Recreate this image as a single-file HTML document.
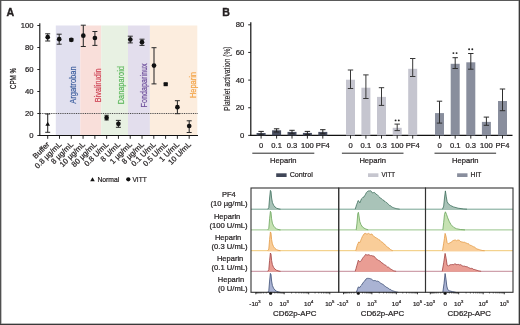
<!DOCTYPE html><html><head><meta charset="utf-8"><style>html,body{margin:0;padding:0;background:#fff;}svg{display:block;will-change:transform;}text{font-family:"Liberation Sans", sans-serif;}</style></head><body>
<svg width="520" height="325" viewBox="0 0 520 325">
<rect x="0" y="0" width="520" height="325" fill="#fff"/>
<text x="6.6" y="16.3" font-size="10.6" font-weight="bold" fill="#231f20" stroke="#231f20" stroke-width="0.35">A</text>
<rect x="55.8" y="25.499999999999986" width="24.50" height="110.00" fill="#e1e0ef"/>
<rect x="80.3" y="25.499999999999986" width="20.90" height="110.00" fill="#f9dfda"/>
<rect x="101.2" y="25.499999999999986" width="26.80" height="110.00" fill="#e8f1e3"/>
<rect x="128" y="25.499999999999986" width="21.90" height="110.00" fill="#e3deed"/>
<rect x="149.9" y="25.499999999999986" width="47.40" height="110.00" fill="#fcedde"/>
<text transform="translate(76.30,85.00) rotate(-90)" font-size="9.6" fill="#3d5f9f" stroke="#3d5f9f" stroke-width="0.2" text-anchor="middle" textLength="37.5" lengthAdjust="spacingAndGlyphs">Argatroban</text>
<text transform="translate(100.60,85.30) rotate(-90)" font-size="9.6" fill="#cf4455" stroke="#cf4455" stroke-width="0.2" text-anchor="middle" textLength="33.8" lengthAdjust="spacingAndGlyphs">Bivalirudin</text>
<text transform="translate(124.40,85.20) rotate(-90)" font-size="9.6" fill="#5cb85c" stroke="#5cb85c" stroke-width="0.2" text-anchor="middle" textLength="38.2" lengthAdjust="spacingAndGlyphs">Danaparoid</text>
<text transform="translate(147.40,85.40) rotate(-90)" font-size="9.6" fill="#6e4f9c" stroke="#6e4f9c" stroke-width="0.2" text-anchor="middle" textLength="44.2" lengthAdjust="spacingAndGlyphs">Fondaparinux</text>
<text transform="translate(195.60,85.00) rotate(-90)" font-size="9.6" fill="#f3a448" stroke="#f3a448" stroke-width="0.2" text-anchor="middle" textLength="26" lengthAdjust="spacingAndGlyphs">Heparin</text>
<line x1="40" y1="113.5" x2="198.2" y2="113.5" stroke="#4a4a4a" stroke-width="1" stroke-dasharray="1,0.8"/>
<line x1="39.8" y1="23.299999999999986" x2="39.8" y2="136.0" stroke="#111" stroke-width="1.1"/>
<line x1="39.3" y1="135.5" x2="198" y2="135.5" stroke="#111" stroke-width="1.1"/>
<line x1="37.3" y1="135.5" x2="39.8" y2="135.5" stroke="#111" stroke-width="0.9"/>
<text x="33.6" y="137.80" font-size="7.7" fill="#231f20" text-anchor="end" stroke="#231f20" stroke-width="0.22">0</text>
<line x1="37.3" y1="113.5" x2="39.8" y2="113.5" stroke="#111" stroke-width="0.9"/>
<text x="33.6" y="115.80" font-size="7.7" fill="#231f20" text-anchor="end" stroke="#231f20" stroke-width="0.22">20</text>
<line x1="37.3" y1="91.5" x2="39.8" y2="91.5" stroke="#111" stroke-width="0.9"/>
<text x="33.6" y="93.80" font-size="7.7" fill="#231f20" text-anchor="end" stroke="#231f20" stroke-width="0.22">40</text>
<line x1="37.3" y1="69.5" x2="39.8" y2="69.5" stroke="#111" stroke-width="0.9"/>
<text x="33.6" y="71.80" font-size="7.7" fill="#231f20" text-anchor="end" stroke="#231f20" stroke-width="0.22">60</text>
<line x1="37.3" y1="47.5" x2="39.8" y2="47.5" stroke="#111" stroke-width="0.9"/>
<text x="33.6" y="49.80" font-size="7.7" fill="#231f20" text-anchor="end" stroke="#231f20" stroke-width="0.22">80</text>
<line x1="37.3" y1="25.499999999999986" x2="39.8" y2="25.499999999999986" stroke="#111" stroke-width="0.9"/>
<text x="33.6" y="27.80" font-size="7.7" fill="#231f20" text-anchor="end" stroke="#231f20" stroke-width="0.22">100</text>
<line x1="47.70" y1="135.5" x2="47.70" y2="138.8" stroke="#111" stroke-width="0.9"/>
<line x1="59.49" y1="135.5" x2="59.49" y2="138.8" stroke="#111" stroke-width="0.9"/>
<line x1="71.28" y1="135.5" x2="71.28" y2="138.8" stroke="#111" stroke-width="0.9"/>
<line x1="83.07" y1="135.5" x2="83.07" y2="138.8" stroke="#111" stroke-width="0.9"/>
<line x1="94.86" y1="135.5" x2="94.86" y2="138.8" stroke="#111" stroke-width="0.9"/>
<line x1="106.65" y1="135.5" x2="106.65" y2="138.8" stroke="#111" stroke-width="0.9"/>
<line x1="118.44" y1="135.5" x2="118.44" y2="138.8" stroke="#111" stroke-width="0.9"/>
<line x1="130.23" y1="135.5" x2="130.23" y2="138.8" stroke="#111" stroke-width="0.9"/>
<line x1="142.02" y1="135.5" x2="142.02" y2="138.8" stroke="#111" stroke-width="0.9"/>
<line x1="153.81" y1="135.5" x2="153.81" y2="138.8" stroke="#111" stroke-width="0.9"/>
<line x1="165.60" y1="135.5" x2="165.60" y2="138.8" stroke="#111" stroke-width="0.9"/>
<line x1="177.39" y1="135.5" x2="177.39" y2="138.8" stroke="#111" stroke-width="0.9"/>
<line x1="189.18" y1="135.5" x2="189.18" y2="138.8" stroke="#111" stroke-width="0.9"/>
<text transform="translate(15.6,78.5) rotate(-90)" font-size="9.6" fill="#231f20" stroke="#231f20" stroke-width="0.25" text-anchor="middle" textLength="21" lengthAdjust="spacingAndGlyphs">CPM %</text>
<text transform="translate(50.10,144.90) rotate(-45)" font-size="7.65" fill="#231f20" text-anchor="end" stroke="#231f20" stroke-width="0.22">Buffer</text>
<text transform="translate(61.89,144.90) rotate(-45)" font-size="7.65" fill="#231f20" text-anchor="end" stroke="#231f20" stroke-width="0.22">0.8 µg/mL</text>
<text transform="translate(73.68,144.90) rotate(-45)" font-size="7.65" fill="#231f20" text-anchor="end" stroke="#231f20" stroke-width="0.22">8 µg/mL</text>
<text transform="translate(85.47,144.90) rotate(-45)" font-size="7.65" fill="#231f20" text-anchor="end" stroke="#231f20" stroke-width="0.22">10 µg/mL</text>
<text transform="translate(97.26,144.90) rotate(-45)" font-size="7.65" fill="#231f20" text-anchor="end" stroke="#231f20" stroke-width="0.22">80 µg/mL</text>
<text transform="translate(109.05,144.90) rotate(-45)" font-size="7.65" fill="#231f20" text-anchor="end" stroke="#231f20" stroke-width="0.22">0.8 U/mL</text>
<text transform="translate(120.84,144.90) rotate(-45)" font-size="7.65" fill="#231f20" text-anchor="end" stroke="#231f20" stroke-width="0.22">8 U/mL</text>
<text transform="translate(132.63,144.90) rotate(-45)" font-size="7.65" fill="#231f20" text-anchor="end" stroke="#231f20" stroke-width="0.22">1 µg/mL</text>
<text transform="translate(144.42,144.90) rotate(-45)" font-size="7.65" fill="#231f20" text-anchor="end" stroke="#231f20" stroke-width="0.22">8 µg/mL</text>
<text transform="translate(156.21,144.90) rotate(-45)" font-size="7.65" fill="#231f20" text-anchor="end" stroke="#231f20" stroke-width="0.22">0.1 U/mL</text>
<text transform="translate(168.00,144.90) rotate(-45)" font-size="7.65" fill="#231f20" text-anchor="end" stroke="#231f20" stroke-width="0.22">0.5 U/mL</text>
<text transform="translate(179.79,144.90) rotate(-45)" font-size="7.65" fill="#231f20" text-anchor="end" stroke="#231f20" stroke-width="0.22">1 U/mL</text>
<text transform="translate(191.58,144.90) rotate(-45)" font-size="7.65" fill="#231f20" text-anchor="end" stroke="#231f20" stroke-width="0.22">10 U/mL</text>
<line x1="47.7" y1="33.8" x2="47.7" y2="41.0" stroke="#2a2a2a" stroke-width="1.05"/>
<line x1="45.20" y1="33.8" x2="50.20" y2="33.8" stroke="#2a2a2a" stroke-width="1"/>
<line x1="45.20" y1="41.0" x2="50.20" y2="41.0" stroke="#2a2a2a" stroke-width="1"/>
<circle cx="47.7" cy="37.2" r="2.35" fill="#111"/>
<line x1="47.7" y1="114.0" x2="47.7" y2="132.3" stroke="#2a2a2a" stroke-width="1.05"/>
<line x1="45.20" y1="114.0" x2="50.20" y2="114.0" stroke="#2a2a2a" stroke-width="1"/>
<line x1="45.20" y1="132.3" x2="50.20" y2="132.3" stroke="#2a2a2a" stroke-width="1"/>
<path d="M47.7 121.8 L50.0 125.8 L45.400000000000006 125.8Z" fill="#111"/>
<line x1="59.2" y1="34.2" x2="59.2" y2="44.2" stroke="#2a2a2a" stroke-width="1.05"/>
<line x1="56.70" y1="34.2" x2="61.70" y2="34.2" stroke="#2a2a2a" stroke-width="1"/>
<line x1="56.70" y1="44.2" x2="61.70" y2="44.2" stroke="#2a2a2a" stroke-width="1"/>
<circle cx="59.2" cy="39.2" r="2.35" fill="#111"/>
<line x1="71.3" y1="38.6" x2="71.3" y2="41.0" stroke="#2a2a2a" stroke-width="1.05"/>
<line x1="69.20" y1="38.6" x2="73.40" y2="38.6" stroke="#2a2a2a" stroke-width="1"/>
<line x1="69.20" y1="41.0" x2="73.40" y2="41.0" stroke="#2a2a2a" stroke-width="1"/>
<circle cx="71.3" cy="39.8" r="2.35" fill="#111"/>
<line x1="83.3" y1="25.2" x2="83.3" y2="46.5" stroke="#2a2a2a" stroke-width="1.05"/>
<line x1="80.80" y1="25.2" x2="85.80" y2="25.2" stroke="#2a2a2a" stroke-width="1"/>
<line x1="80.80" y1="46.5" x2="85.80" y2="46.5" stroke="#2a2a2a" stroke-width="1"/>
<circle cx="83.3" cy="35.7" r="2.35" fill="#111"/>
<line x1="94.9" y1="31.5" x2="94.9" y2="45.4" stroke="#2a2a2a" stroke-width="1.05"/>
<line x1="92.40" y1="31.5" x2="97.40" y2="31.5" stroke="#2a2a2a" stroke-width="1"/>
<line x1="92.40" y1="45.4" x2="97.40" y2="45.4" stroke="#2a2a2a" stroke-width="1"/>
<circle cx="94.9" cy="38.0" r="2.35" fill="#111"/>
<line x1="106.6" y1="115.3" x2="106.6" y2="120.0" stroke="#2a2a2a" stroke-width="1.05"/>
<line x1="104.50" y1="115.3" x2="108.70" y2="115.3" stroke="#2a2a2a" stroke-width="1"/>
<line x1="104.50" y1="120.0" x2="108.70" y2="120.0" stroke="#2a2a2a" stroke-width="1"/>
<circle cx="106.6" cy="117.8" r="2.35" fill="#111"/>
<line x1="118.4" y1="120.4" x2="118.4" y2="127.3" stroke="#2a2a2a" stroke-width="1.05"/>
<line x1="115.90" y1="120.4" x2="120.90" y2="120.4" stroke="#2a2a2a" stroke-width="1"/>
<line x1="115.90" y1="127.3" x2="120.90" y2="127.3" stroke="#2a2a2a" stroke-width="1"/>
<circle cx="118.4" cy="123.8" r="2.35" fill="#111"/>
<line x1="130.3" y1="36.2" x2="130.3" y2="42.9" stroke="#2a2a2a" stroke-width="1.05"/>
<line x1="127.80" y1="36.2" x2="132.80" y2="36.2" stroke="#2a2a2a" stroke-width="1"/>
<line x1="127.80" y1="42.9" x2="132.80" y2="42.9" stroke="#2a2a2a" stroke-width="1"/>
<circle cx="130.3" cy="39.5" r="2.35" fill="#111"/>
<line x1="142.0" y1="39.2" x2="142.0" y2="45.4" stroke="#2a2a2a" stroke-width="1.05"/>
<line x1="139.50" y1="39.2" x2="144.50" y2="39.2" stroke="#2a2a2a" stroke-width="1"/>
<line x1="139.50" y1="45.4" x2="144.50" y2="45.4" stroke="#2a2a2a" stroke-width="1"/>
<circle cx="142.0" cy="42.2" r="2.35" fill="#111"/>
<line x1="154.0" y1="47.7" x2="154.0" y2="83.9" stroke="#2a2a2a" stroke-width="1.05"/>
<line x1="151.50" y1="47.7" x2="156.50" y2="47.7" stroke="#2a2a2a" stroke-width="1"/>
<line x1="151.50" y1="83.9" x2="156.50" y2="83.9" stroke="#2a2a2a" stroke-width="1"/>
<circle cx="154.0" cy="65.6" r="2.35" fill="#111"/>
<line x1="165.7" y1="83.4" x2="165.7" y2="85.0" stroke="#2a2a2a" stroke-width="1.05"/>
<line x1="163.60" y1="83.4" x2="167.80" y2="83.4" stroke="#2a2a2a" stroke-width="1"/>
<line x1="163.60" y1="85.0" x2="167.80" y2="85.0" stroke="#2a2a2a" stroke-width="1"/>
<rect x="163.7" y="82.2" width="4" height="4" fill="#111"/>
<line x1="177.4" y1="100.7" x2="177.4" y2="113.7" stroke="#2a2a2a" stroke-width="1.05"/>
<line x1="174.90" y1="100.7" x2="179.90" y2="100.7" stroke="#2a2a2a" stroke-width="1"/>
<line x1="174.90" y1="113.7" x2="179.90" y2="113.7" stroke="#2a2a2a" stroke-width="1"/>
<circle cx="177.4" cy="107.2" r="2.35" fill="#111"/>
<line x1="189.2" y1="120.8" x2="189.2" y2="132.5" stroke="#2a2a2a" stroke-width="1.05"/>
<line x1="186.70" y1="120.8" x2="191.70" y2="120.8" stroke="#2a2a2a" stroke-width="1"/>
<line x1="186.70" y1="132.5" x2="191.70" y2="132.5" stroke="#2a2a2a" stroke-width="1"/>
<circle cx="189.2" cy="126.0" r="2.35" fill="#111"/>
<path d="M92.5 177.2 L94.8 181.2 L90.2 181.2Z" fill="#111"/>
<text x="97.4" y="181.6" font-size="7.4" fill="#231f20" textLength="21.9" lengthAdjust="spacingAndGlyphs" stroke="#231f20" stroke-width="0.22">Normal</text>
<circle cx="128.3" cy="179.3" r="2.1" fill="#111"/>
<text x="132.4" y="181.6" font-size="7.4" fill="#231f20" textLength="14.3" lengthAdjust="spacingAndGlyphs" stroke="#231f20" stroke-width="0.22">VITT</text>
<text x="222.2" y="16.3" font-size="10.6" font-weight="bold" fill="#231f20" stroke="#231f20" stroke-width="0.35">B</text>
<line x1="250.8" y1="22.199999999999996" x2="250.8" y2="135.9" stroke="#111" stroke-width="1.2"/>
<line x1="250.2" y1="135.4" x2="512.5" y2="135.4" stroke="#111" stroke-width="1.1"/>
<line x1="248.2" y1="135.4" x2="250.8" y2="135.4" stroke="#111" stroke-width="0.9"/>
<text x="244.3" y="137.90" font-size="7.7" fill="#231f20" text-anchor="end" stroke="#231f20" stroke-width="0.22">0</text>
<line x1="248.2" y1="107.75" x2="250.8" y2="107.75" stroke="#111" stroke-width="0.9"/>
<text x="244.3" y="110.25" font-size="7.7" fill="#231f20" text-anchor="end" stroke="#231f20" stroke-width="0.22">20</text>
<line x1="248.2" y1="80.1" x2="250.8" y2="80.1" stroke="#111" stroke-width="0.9"/>
<text x="244.3" y="82.60" font-size="7.7" fill="#231f20" text-anchor="end" stroke="#231f20" stroke-width="0.22">40</text>
<line x1="248.2" y1="52.45" x2="250.8" y2="52.45" stroke="#111" stroke-width="0.9"/>
<text x="244.3" y="54.95" font-size="7.7" fill="#231f20" text-anchor="end" stroke="#231f20" stroke-width="0.22">60</text>
<line x1="248.2" y1="24.799999999999997" x2="250.8" y2="24.799999999999997" stroke="#111" stroke-width="0.9"/>
<text x="244.3" y="27.30" font-size="7.7" fill="#231f20" text-anchor="end" stroke="#231f20" stroke-width="0.22">80</text>
<text transform="translate(229.9,78.7) rotate(-90)" font-size="8.3" fill="#231f20" stroke="#231f20" stroke-width="0.15" text-anchor="middle" textLength="64.6" lengthAdjust="spacingAndGlyphs">Platelet activation (%)</text>
<rect x="256.60" y="133.0" width="9" height="2.40" fill="#484e60"/>
<line x1="261.1" y1="131.4" x2="261.1" y2="134.8" stroke="#222" stroke-width="1"/>
<line x1="258.40" y1="131.4" x2="263.80" y2="131.4" stroke="#222" stroke-width="1"/>
<line x1="258.40" y1="134.8" x2="263.80" y2="134.8" stroke="#222" stroke-width="1"/>
<line x1="261.1" y1="135.4" x2="261.1" y2="138.6" stroke="#111" stroke-width="0.9"/>
<rect x="272.10" y="130.3" width="9" height="5.10" fill="#484e60"/>
<line x1="276.6" y1="128.8" x2="276.6" y2="132.0" stroke="#222" stroke-width="1"/>
<line x1="273.90" y1="128.8" x2="279.30" y2="128.8" stroke="#222" stroke-width="1"/>
<line x1="273.90" y1="132.0" x2="279.30" y2="132.0" stroke="#222" stroke-width="1"/>
<line x1="276.6" y1="135.4" x2="276.6" y2="138.6" stroke="#111" stroke-width="0.9"/>
<rect x="287.50" y="131.9" width="9" height="3.50" fill="#484e60"/>
<line x1="292.0" y1="130.3" x2="292.0" y2="133.8" stroke="#222" stroke-width="1"/>
<line x1="289.30" y1="130.3" x2="294.70" y2="130.3" stroke="#222" stroke-width="1"/>
<line x1="289.30" y1="133.8" x2="294.70" y2="133.8" stroke="#222" stroke-width="1"/>
<line x1="292.0" y1="135.4" x2="292.0" y2="138.6" stroke="#111" stroke-width="0.9"/>
<rect x="302.90" y="132.9" width="9" height="2.50" fill="#484e60"/>
<line x1="307.4" y1="131.4" x2="307.4" y2="134.6" stroke="#222" stroke-width="1"/>
<line x1="304.70" y1="131.4" x2="310.10" y2="131.4" stroke="#222" stroke-width="1"/>
<line x1="304.70" y1="134.6" x2="310.10" y2="134.6" stroke="#222" stroke-width="1"/>
<line x1="307.4" y1="135.4" x2="307.4" y2="138.6" stroke="#111" stroke-width="0.9"/>
<rect x="318.30" y="131.9" width="9" height="3.50" fill="#484e60"/>
<line x1="322.8" y1="129.7" x2="322.8" y2="133.8" stroke="#222" stroke-width="1"/>
<line x1="320.10" y1="129.7" x2="325.50" y2="129.7" stroke="#222" stroke-width="1"/>
<line x1="320.10" y1="133.8" x2="325.50" y2="133.8" stroke="#222" stroke-width="1"/>
<line x1="322.8" y1="135.4" x2="322.8" y2="138.6" stroke="#111" stroke-width="0.9"/>
<text x="261.1" y="148.4" font-size="7.6" fill="#231f20" text-anchor="middle" stroke="#231f20" stroke-width="0.22">0</text>
<text x="276.6" y="148.4" font-size="7.6" fill="#231f20" text-anchor="middle" stroke="#231f20" stroke-width="0.22">0.1</text>
<text x="292.0" y="148.4" font-size="7.6" fill="#231f20" text-anchor="middle" stroke="#231f20" stroke-width="0.22">0.3</text>
<text x="307.4" y="148.4" font-size="7.6" fill="#231f20" text-anchor="middle" stroke="#231f20" stroke-width="0.22">100</text>
<text x="322.8" y="148.4" font-size="7.6" fill="#231f20" text-anchor="middle" stroke="#231f20" stroke-width="0.22">PF4</text>
<line x1="252.3" y1="153.2" x2="314.3" y2="153.2" stroke="#111" stroke-width="0.9"/>
<text x="283.30" y="163.3" font-size="7.6" fill="#231f20" text-anchor="middle" stroke="#231f20" stroke-width="0.22">Heparin</text>
<rect x="346.00" y="79.7" width="9" height="55.70" fill="#c5c5cf"/>
<line x1="350.5" y1="70.0" x2="350.5" y2="88.5" stroke="#383838" stroke-width="1"/>
<line x1="347.80" y1="70.0" x2="353.20" y2="70.0" stroke="#383838" stroke-width="1"/>
<line x1="347.80" y1="88.5" x2="353.20" y2="88.5" stroke="#383838" stroke-width="1"/>
<line x1="350.5" y1="135.4" x2="350.5" y2="138.6" stroke="#111" stroke-width="0.9"/>
<rect x="361.40" y="87.7" width="9" height="47.70" fill="#c5c5cf"/>
<line x1="365.9" y1="74.9" x2="365.9" y2="98.5" stroke="#383838" stroke-width="1"/>
<line x1="363.20" y1="74.9" x2="368.60" y2="74.9" stroke="#383838" stroke-width="1"/>
<line x1="363.20" y1="98.5" x2="368.60" y2="98.5" stroke="#383838" stroke-width="1"/>
<line x1="365.9" y1="135.4" x2="365.9" y2="138.6" stroke="#111" stroke-width="0.9"/>
<rect x="377.00" y="96.9" width="9" height="38.50" fill="#c5c5cf"/>
<line x1="381.5" y1="87.7" x2="381.5" y2="105.4" stroke="#383838" stroke-width="1"/>
<line x1="378.80" y1="87.7" x2="384.20" y2="87.7" stroke="#383838" stroke-width="1"/>
<line x1="378.80" y1="105.4" x2="384.20" y2="105.4" stroke="#383838" stroke-width="1"/>
<line x1="381.5" y1="135.4" x2="381.5" y2="138.6" stroke="#111" stroke-width="0.9"/>
<rect x="392.70" y="127.8" width="9" height="7.60" fill="#c5c5cf"/>
<line x1="397.2" y1="124.1" x2="397.2" y2="130.6" stroke="#383838" stroke-width="1"/>
<line x1="394.50" y1="124.1" x2="399.90" y2="124.1" stroke="#383838" stroke-width="1"/>
<line x1="394.50" y1="130.6" x2="399.90" y2="130.6" stroke="#383838" stroke-width="1"/>
<line x1="397.2" y1="135.4" x2="397.2" y2="138.6" stroke="#111" stroke-width="0.9"/>
<rect x="408.20" y="68.8" width="9" height="66.60" fill="#c5c5cf"/>
<line x1="412.7" y1="58.5" x2="412.7" y2="76.5" stroke="#383838" stroke-width="1"/>
<line x1="410.00" y1="58.5" x2="415.40" y2="58.5" stroke="#383838" stroke-width="1"/>
<line x1="410.00" y1="76.5" x2="415.40" y2="76.5" stroke="#383838" stroke-width="1"/>
<line x1="412.7" y1="135.4" x2="412.7" y2="138.6" stroke="#111" stroke-width="0.9"/>
<circle cx="395.60" cy="120.4" r="0.95" fill="#222"/><circle cx="398.80" cy="120.4" r="0.95" fill="#222"/>
<text x="350.5" y="148.4" font-size="7.6" fill="#231f20" text-anchor="middle" stroke="#231f20" stroke-width="0.22">0</text>
<text x="365.9" y="148.4" font-size="7.6" fill="#231f20" text-anchor="middle" stroke="#231f20" stroke-width="0.22">0.1</text>
<text x="381.5" y="148.4" font-size="7.6" fill="#231f20" text-anchor="middle" stroke="#231f20" stroke-width="0.22">0.3</text>
<text x="397.2" y="148.4" font-size="7.6" fill="#231f20" text-anchor="middle" stroke="#231f20" stroke-width="0.22">100</text>
<text x="412.7" y="148.4" font-size="7.6" fill="#231f20" text-anchor="middle" stroke="#231f20" stroke-width="0.22">PF4</text>
<line x1="341.9" y1="153.2" x2="403.5" y2="153.2" stroke="#111" stroke-width="0.9"/>
<text x="372.70" y="163.3" font-size="7.6" fill="#231f20" text-anchor="middle" stroke="#231f20" stroke-width="0.22">Heparin</text>
<rect x="435.00" y="113.1" width="9" height="22.30" fill="#898e9d"/>
<line x1="439.5" y1="101.2" x2="439.5" y2="123.1" stroke="#2e2e2e" stroke-width="1"/>
<line x1="436.80" y1="101.2" x2="442.20" y2="101.2" stroke="#2e2e2e" stroke-width="1"/>
<line x1="436.80" y1="123.1" x2="442.20" y2="123.1" stroke="#2e2e2e" stroke-width="1"/>
<line x1="439.5" y1="135.4" x2="439.5" y2="138.6" stroke="#111" stroke-width="0.9"/>
<rect x="450.70" y="63.8" width="9" height="71.60" fill="#898e9d"/>
<line x1="455.2" y1="57.7" x2="455.2" y2="68.5" stroke="#2e2e2e" stroke-width="1"/>
<line x1="452.50" y1="57.7" x2="457.90" y2="57.7" stroke="#2e2e2e" stroke-width="1"/>
<line x1="452.50" y1="68.5" x2="457.90" y2="68.5" stroke="#2e2e2e" stroke-width="1"/>
<line x1="455.2" y1="135.4" x2="455.2" y2="138.6" stroke="#111" stroke-width="0.9"/>
<rect x="466.30" y="62.3" width="9" height="73.10" fill="#898e9d"/>
<line x1="470.8" y1="53.5" x2="470.8" y2="69.2" stroke="#2e2e2e" stroke-width="1"/>
<line x1="468.10" y1="53.5" x2="473.50" y2="53.5" stroke="#2e2e2e" stroke-width="1"/>
<line x1="468.10" y1="69.2" x2="473.50" y2="69.2" stroke="#2e2e2e" stroke-width="1"/>
<line x1="470.8" y1="135.4" x2="470.8" y2="138.6" stroke="#111" stroke-width="0.9"/>
<rect x="481.90" y="121.9" width="9" height="13.50" fill="#898e9d"/>
<line x1="486.4" y1="117.1" x2="486.4" y2="125.3" stroke="#2e2e2e" stroke-width="1"/>
<line x1="483.70" y1="117.1" x2="489.10" y2="117.1" stroke="#2e2e2e" stroke-width="1"/>
<line x1="483.70" y1="125.3" x2="489.10" y2="125.3" stroke="#2e2e2e" stroke-width="1"/>
<line x1="486.4" y1="135.4" x2="486.4" y2="138.6" stroke="#111" stroke-width="0.9"/>
<rect x="498.00" y="101.0" width="9" height="34.40" fill="#898e9d"/>
<line x1="502.5" y1="89.0" x2="502.5" y2="110.7" stroke="#2e2e2e" stroke-width="1"/>
<line x1="499.80" y1="89.0" x2="505.20" y2="89.0" stroke="#2e2e2e" stroke-width="1"/>
<line x1="499.80" y1="110.7" x2="505.20" y2="110.7" stroke="#2e2e2e" stroke-width="1"/>
<line x1="502.5" y1="135.4" x2="502.5" y2="138.6" stroke="#111" stroke-width="0.9"/>
<circle cx="453.40" cy="53.1" r="0.95" fill="#222"/><circle cx="456.60" cy="53.1" r="0.95" fill="#222"/>
<circle cx="469.10" cy="49.2" r="0.95" fill="#222"/><circle cx="472.30" cy="49.2" r="0.95" fill="#222"/>
<text x="439.5" y="148.4" font-size="7.6" fill="#231f20" text-anchor="middle" stroke="#231f20" stroke-width="0.22">0</text>
<text x="455.2" y="148.4" font-size="7.6" fill="#231f20" text-anchor="middle" stroke="#231f20" stroke-width="0.22">0.1</text>
<text x="470.8" y="148.4" font-size="7.6" fill="#231f20" text-anchor="middle" stroke="#231f20" stroke-width="0.22">0.3</text>
<text x="486.4" y="148.4" font-size="7.6" fill="#231f20" text-anchor="middle" stroke="#231f20" stroke-width="0.22">100</text>
<text x="502.5" y="148.4" font-size="7.6" fill="#231f20" text-anchor="middle" stroke="#231f20" stroke-width="0.22">PF4</text>
<line x1="434.5" y1="153.2" x2="496.1" y2="153.2" stroke="#111" stroke-width="0.9"/>
<text x="465.30" y="163.3" font-size="7.6" fill="#231f20" text-anchor="middle" stroke="#231f20" stroke-width="0.22">Heparin</text>
<rect x="276.2" y="173.3" width="10.4" height="3.7" fill="#404658"/>
<text x="289.70" y="176.8" font-size="7.5" fill="#231f20" textLength="23.1" lengthAdjust="spacingAndGlyphs" stroke="#231f20" stroke-width="0.22">Control</text>
<rect x="368" y="173.3" width="10.4" height="3.7" fill="#c6c6cf"/>
<text x="381.50" y="176.8" font-size="7.5" fill="#231f20" textLength="13.6" lengthAdjust="spacingAndGlyphs" stroke="#231f20" stroke-width="0.22">VITT</text>
<rect x="457.1" y="173.3" width="10.4" height="3.7" fill="#898e9d"/>
<text x="470.60" y="176.8" font-size="7.5" fill="#231f20" textLength="10.9" lengthAdjust="spacingAndGlyphs" stroke="#231f20" stroke-width="0.22">HIT</text>
<text x="228.8" y="196.8" font-size="7.5" fill="#231f20" text-anchor="middle" stroke="#231f20" stroke-width="0.22">PF4</text>
<text x="247.6" y="205.70" font-size="7.65" fill="#231f20" text-anchor="end" stroke="#231f20" stroke-width="0.22">(10 µg/mL)</text>
<text x="227.1" y="218.9" font-size="7.5" fill="#231f20" text-anchor="middle" stroke="#231f20" stroke-width="0.22">Heparin</text>
<text x="247.6" y="227.80" font-size="7.65" fill="#231f20" text-anchor="end" stroke="#231f20" stroke-width="0.22">(100 U/mL)</text>
<text x="228.1" y="240.1" font-size="7.5" fill="#231f20" text-anchor="middle" stroke="#231f20" stroke-width="0.22">Heparin</text>
<text x="247.6" y="249.00" font-size="7.65" fill="#231f20" text-anchor="end" stroke="#231f20" stroke-width="0.22">(0.3 U/mL)</text>
<text x="230.1" y="261.1" font-size="7.5" fill="#231f20" text-anchor="middle" stroke="#231f20" stroke-width="0.22">Heparin</text>
<text x="247.6" y="270.00" font-size="7.65" fill="#231f20" text-anchor="end" stroke="#231f20" stroke-width="0.22">(0.1 U/mL)</text>
<text x="231.0" y="282.1" font-size="7.5" fill="#231f20" text-anchor="middle" stroke="#231f20" stroke-width="0.22">Heparin</text>
<text x="247.6" y="291.00" font-size="7.65" fill="#231f20" text-anchor="end" stroke="#231f20" stroke-width="0.22">(0 U/mL)</text>
<line x1="251.0" y1="209.2" x2="338.7" y2="209.2" stroke="#74a291" stroke-width="1"/>
<line x1="251.0" y1="229.9" x2="338.7" y2="229.9" stroke="#98c48a" stroke-width="1"/>
<line x1="251.0" y1="250.7" x2="338.7" y2="250.7" stroke="#f1c874" stroke-width="1"/>
<line x1="251.0" y1="271.3" x2="338.7" y2="271.3" stroke="#c48a98" stroke-width="1"/>
<line x1="338.7" y1="209.2" x2="425.5" y2="209.2" stroke="#74a291" stroke-width="1"/>
<line x1="338.7" y1="229.9" x2="425.5" y2="229.9" stroke="#98c48a" stroke-width="1"/>
<line x1="338.7" y1="250.7" x2="425.5" y2="250.7" stroke="#f1c874" stroke-width="1"/>
<line x1="338.7" y1="271.3" x2="425.5" y2="271.3" stroke="#c48a98" stroke-width="1"/>
<line x1="425.5" y1="209.2" x2="513.0" y2="209.2" stroke="#74a291" stroke-width="1"/>
<line x1="425.5" y1="229.9" x2="513.0" y2="229.9" stroke="#98c48a" stroke-width="1"/>
<line x1="425.5" y1="250.7" x2="513.0" y2="250.7" stroke="#f1c874" stroke-width="1"/>
<line x1="425.5" y1="271.3" x2="513.0" y2="271.3" stroke="#c48a98" stroke-width="1"/>
<path d="M267.80 209.70 L267.80 209.20 L268.80 207.60 L269.60 198.00 L270.40 190.40 L271.00 191.60 L271.60 198.00 L272.40 202.40 L273.60 205.20 L275.00 207.00 L276.60 208.20 L279.00 209.00 L280.50 209.20 L280.50 209.70Z" fill="#a9c3b8"/>
<path d="M267.80 209.20 L268.80 207.60 L269.60 198.00 L270.40 190.40 L271.00 191.60 L271.60 198.00 L272.40 202.40 L273.60 205.20 L275.00 207.00 L276.60 208.20 L279.00 209.00 L280.50 209.20" fill="none" stroke="#3e6e5c" stroke-width="0.8" stroke-linejoin="round"/>
<path d="M267.80 230.40 L267.80 229.90 L268.80 228.32 L269.60 218.82 L270.40 211.30 L271.00 212.49 L271.60 218.82 L272.40 223.17 L273.60 225.94 L275.00 227.72 L276.60 228.91 L279.00 229.70 L280.50 229.90 L280.50 230.40Z" fill="#c6e2b2"/>
<path d="M267.80 229.90 L268.80 228.32 L269.60 218.82 L270.40 211.30 L271.00 212.49 L271.60 218.82 L272.40 223.17 L273.60 225.94 L275.00 227.72 L276.60 228.91 L279.00 229.70 L280.50 229.90" fill="none" stroke="#6aa55c" stroke-width="0.8" stroke-linejoin="round"/>
<path d="M267.80 251.20 L267.80 250.70 L268.80 249.10 L269.60 239.50 L270.40 231.90 L271.00 233.10 L271.60 239.50 L272.40 243.90 L273.60 246.70 L275.00 248.50 L276.60 249.70 L279.00 250.50 L280.50 250.70 L280.50 251.20Z" fill="#f9cd99"/>
<path d="M267.80 250.70 L268.80 249.10 L269.60 239.50 L270.40 231.90 L271.00 233.10 L271.60 239.50 L272.40 243.90 L273.60 246.70 L275.00 248.50 L276.60 249.70 L279.00 250.50 L280.50 250.70" fill="none" stroke="#e39a45" stroke-width="0.8" stroke-linejoin="round"/>
<path d="M267.80 271.80 L267.80 271.30 L268.80 269.74 L269.60 260.40 L270.40 253.00 L271.00 254.17 L271.60 260.40 L272.40 264.68 L273.60 267.41 L275.00 269.16 L276.60 270.33 L279.00 271.11 L280.50 271.30 L280.50 271.80Z" fill="#e99d94"/>
<path d="M267.80 271.30 L268.80 269.74 L269.60 260.40 L270.40 253.00 L271.00 254.17 L271.60 260.40 L272.40 264.68 L273.60 267.41 L275.00 269.16 L276.60 270.33 L279.00 271.11 L280.50 271.30" fill="none" stroke="#a04040" stroke-width="0.8" stroke-linejoin="round"/>
<path d="M267.80 292.80 L267.80 292.30 L268.80 290.69 L269.60 281.04 L270.40 273.40 L271.00 274.61 L271.60 281.04 L272.40 285.46 L273.60 288.28 L275.00 290.09 L276.60 291.29 L279.00 292.10 L280.50 292.30 L280.50 292.80Z" fill="#aab3d3"/>
<path d="M267.80 292.30 L268.80 290.69 L269.60 281.04 L270.40 273.40 L271.00 274.61 L271.60 281.04 L272.40 285.46 L273.60 288.28 L275.00 290.09 L276.60 291.29 L279.00 292.10 L280.50 292.30" fill="none" stroke="#3b4c74" stroke-width="0.8" stroke-linejoin="round"/>
<path d="M355.20 209.70 L355.20 209.20 L355.93 206.87 L356.65 204.54 L357.38 202.81 L358.10 200.50 L358.95 201.27 L359.80 202.80 L360.65 200.83 L361.50 198.80 L362.27 198.11 L363.03 197.27 L363.80 197.10 L364.70 195.66 L365.60 194.20 L366.45 192.48 L367.30 191.60 L368.07 191.31 L368.83 190.75 L369.60 190.90 L370.45 190.73 L371.30 191.30 L372.50 193.00 L373.35 192.63 L374.20 192.40 L375.40 193.30 L376.25 194.39 L377.10 194.56 L377.95 195.45 L378.80 196.50 L379.50 197.19 L380.20 198.06 L380.90 198.31 L381.60 198.73 L382.30 199.40 L383.00 200.39 L383.70 200.11 L384.40 201.40 L385.10 201.45 L385.80 202.20 L386.65 202.60 L387.50 203.31 L388.35 204.20 L389.20 205.10 L389.90 205.84 L390.60 205.73 L391.30 206.55 L392.00 207.07 L392.70 207.40 L393.55 207.70 L394.40 208.00 L395.25 208.30 L396.10 208.60 L396.80 208.72 L397.50 208.84 L398.20 208.96 L398.90 209.08 L399.60 209.20 L399.60 209.70Z" fill="#a9c3b8"/>
<path d="M355.20 209.20 L355.93 206.87 L356.65 204.54 L357.38 202.81 L358.10 200.50 L358.95 201.27 L359.80 202.80 L360.65 200.83 L361.50 198.80 L362.27 198.11 L363.03 197.27 L363.80 197.10 L364.70 195.66 L365.60 194.20 L366.45 192.48 L367.30 191.60 L368.07 191.31 L368.83 190.75 L369.60 190.90 L370.45 190.73 L371.30 191.30 L372.50 193.00 L373.35 192.63 L374.20 192.40 L375.40 193.30 L376.25 194.39 L377.10 194.56 L377.95 195.45 L378.80 196.50 L379.50 197.19 L380.20 198.06 L380.90 198.31 L381.60 198.73 L382.30 199.40 L383.00 200.39 L383.70 200.11 L384.40 201.40 L385.10 201.45 L385.80 202.20 L386.65 202.60 L387.50 203.31 L388.35 204.20 L389.20 205.10 L389.90 205.84 L390.60 205.73 L391.30 206.55 L392.00 207.07 L392.70 207.40 L393.55 207.70 L394.40 208.00 L395.25 208.30 L396.10 208.60 L396.80 208.72 L397.50 208.84 L398.20 208.96 L398.90 209.08 L399.60 209.20" fill="none" stroke="#3e6e5c" stroke-width="0.8" stroke-linejoin="round"/>
<path d="M356.20 230.40 L356.20 229.90 L357.00 223.10 L357.80 213.50 L358.40 212.30 L359.00 215.90 L359.80 221.50 L361.00 224.70 L362.60 227.10 L365.00 228.70 L368.20 229.90 L368.20 230.40Z" fill="#c6e2b2"/>
<path d="M356.20 229.90 L357.00 223.10 L357.80 213.50 L358.40 212.30 L359.00 215.90 L359.80 221.50 L361.00 224.70 L362.60 227.10 L365.00 228.70 L368.20 229.90" fill="none" stroke="#6aa55c" stroke-width="0.8" stroke-linejoin="round"/>
<path d="M355.80 251.20 L355.80 250.70 L357.20 245.50 L357.95 243.64 L358.70 242.00 L359.80 242.60 L360.65 240.64 L361.50 238.60 L362.40 236.46 L363.30 235.10 L364.15 233.85 L365.00 233.40 L365.85 233.44 L366.70 234.00 L367.60 233.86 L368.50 233.40 L369.35 233.88 L370.20 234.50 L371.05 234.08 L371.90 234.00 L372.75 235.23 L373.60 236.30 L374.33 236.68 L375.05 236.97 L375.77 237.84 L376.50 238.00 L377.20 238.64 L377.90 238.69 L378.60 239.45 L379.30 239.86 L380.00 240.30 L380.85 241.36 L381.70 241.96 L382.55 242.28 L383.40 243.20 L384.10 244.33 L384.80 244.26 L385.50 245.23 L386.20 246.23 L386.90 246.70 L387.60 246.95 L388.30 247.81 L389.00 247.97 L389.70 248.94 L390.40 249.50 L391.17 249.90 L391.93 250.30 L392.70 250.70 L392.70 251.20Z" fill="#f9cd99"/>
<path d="M355.80 250.70 L357.20 245.50 L357.95 243.64 L358.70 242.00 L359.80 242.60 L360.65 240.64 L361.50 238.60 L362.40 236.46 L363.30 235.10 L364.15 233.85 L365.00 233.40 L365.85 233.44 L366.70 234.00 L367.60 233.86 L368.50 233.40 L369.35 233.88 L370.20 234.50 L371.05 234.08 L371.90 234.00 L372.75 235.23 L373.60 236.30 L374.33 236.68 L375.05 236.97 L375.77 237.84 L376.50 238.00 L377.20 238.64 L377.90 238.69 L378.60 239.45 L379.30 239.86 L380.00 240.30 L380.85 241.36 L381.70 241.96 L382.55 242.28 L383.40 243.20 L384.10 244.33 L384.80 244.26 L385.50 245.23 L386.20 246.23 L386.90 246.70 L387.60 246.95 L388.30 247.81 L389.00 247.97 L389.70 248.94 L390.40 249.50 L391.17 249.90 L391.93 250.30 L392.70 250.70" fill="none" stroke="#e39a45" stroke-width="0.8" stroke-linejoin="round"/>
<path d="M355.20 271.80 L355.20 271.30 L356.05 268.45 L356.90 265.30 L357.60 262.99 L358.30 260.20 L359.05 261.12 L359.80 261.90 L360.65 261.39 L361.50 260.20 L362.40 258.58 L363.30 257.30 L364.07 256.51 L364.83 255.45 L365.60 254.40 L366.45 254.77 L367.30 255.00 L368.15 254.81 L369.00 254.70 L369.77 255.27 L370.53 255.63 L371.30 255.50 L372.07 255.68 L372.83 256.05 L373.60 256.10 L374.40 256.47 L375.20 257.81 L376.00 258.40 L376.85 259.11 L377.70 259.99 L378.55 260.41 L379.40 260.70 L380.20 261.21 L381.00 262.00 L381.80 262.95 L382.60 263.07 L383.40 264.20 L384.10 264.63 L384.80 264.82 L385.50 265.24 L386.20 265.64 L386.90 266.50 L387.60 267.20 L388.30 267.09 L389.00 267.65 L389.70 268.24 L390.40 268.80 L391.25 269.33 L392.10 269.85 L392.95 270.38 L393.80 270.90 L394.57 271.03 L395.33 271.17 L396.10 271.30 L396.10 271.80Z" fill="#e99d94"/>
<path d="M355.20 271.30 L356.05 268.45 L356.90 265.30 L357.60 262.99 L358.30 260.20 L359.05 261.12 L359.80 261.90 L360.65 261.39 L361.50 260.20 L362.40 258.58 L363.30 257.30 L364.07 256.51 L364.83 255.45 L365.60 254.40 L366.45 254.77 L367.30 255.00 L368.15 254.81 L369.00 254.70 L369.77 255.27 L370.53 255.63 L371.30 255.50 L372.07 255.68 L372.83 256.05 L373.60 256.10 L374.40 256.47 L375.20 257.81 L376.00 258.40 L376.85 259.11 L377.70 259.99 L378.55 260.41 L379.40 260.70 L380.20 261.21 L381.00 262.00 L381.80 262.95 L382.60 263.07 L383.40 264.20 L384.10 264.63 L384.80 264.82 L385.50 265.24 L386.20 265.64 L386.90 266.50 L387.60 267.20 L388.30 267.09 L389.00 267.65 L389.70 268.24 L390.40 268.80 L391.25 269.33 L392.10 269.85 L392.95 270.38 L393.80 270.90 L394.57 271.03 L395.33 271.17 L396.10 271.30" fill="none" stroke="#a04040" stroke-width="0.8" stroke-linejoin="round"/>
<path d="M356.30 292.80 L356.30 292.30 L357.50 289.20 L358.30 286.90 L359.05 287.53 L359.80 287.50 L360.65 285.97 L361.50 285.20 L362.27 283.99 L363.03 282.91 L363.80 281.70 L364.57 281.11 L365.33 280.12 L366.10 278.90 L367.30 278.30 L368.07 278.69 L368.83 278.23 L369.60 278.50 L370.37 278.72 L371.13 278.97 L371.90 279.40 L372.67 280.15 L373.43 280.61 L374.20 280.60 L374.97 280.49 L375.73 280.71 L376.50 281.20 L377.27 281.13 L378.03 281.29 L378.80 281.70 L379.57 282.29 L380.33 282.98 L381.10 283.50 L381.80 283.75 L382.50 283.97 L383.20 284.81 L383.90 285.22 L384.60 285.80 L385.30 286.32 L386.00 287.13 L386.70 287.35 L387.40 287.65 L388.10 288.10 L388.95 288.78 L389.80 289.41 L390.65 289.42 L391.50 290.40 L392.27 290.65 L393.03 290.90 L393.80 291.15 L394.57 291.40 L395.33 291.65 L396.10 291.90 L396.87 292.03 L397.63 292.17 L398.40 292.30 L398.40 292.80Z" fill="#aab3d3"/>
<path d="M356.30 292.30 L357.50 289.20 L358.30 286.90 L359.05 287.53 L359.80 287.50 L360.65 285.97 L361.50 285.20 L362.27 283.99 L363.03 282.91 L363.80 281.70 L364.57 281.11 L365.33 280.12 L366.10 278.90 L367.30 278.30 L368.07 278.69 L368.83 278.23 L369.60 278.50 L370.37 278.72 L371.13 278.97 L371.90 279.40 L372.67 280.15 L373.43 280.61 L374.20 280.60 L374.97 280.49 L375.73 280.71 L376.50 281.20 L377.27 281.13 L378.03 281.29 L378.80 281.70 L379.57 282.29 L380.33 282.98 L381.10 283.50 L381.80 283.75 L382.50 283.97 L383.20 284.81 L383.90 285.22 L384.60 285.80 L385.30 286.32 L386.00 287.13 L386.70 287.35 L387.40 287.65 L388.10 288.10 L388.95 288.78 L389.80 289.41 L390.65 289.42 L391.50 290.40 L392.27 290.65 L393.03 290.90 L393.80 291.15 L394.57 291.40 L395.33 291.65 L396.10 291.90 L396.87 292.03 L397.63 292.17 L398.40 292.30" fill="none" stroke="#3b4c74" stroke-width="0.8" stroke-linejoin="round"/>
<path d="M442.50 209.70 L442.50 209.20 L443.70 206.10 L444.50 198.00 L445.40 190.90 L446.30 196.90 L447.10 201.50 L448.30 203.80 L450.60 205.50 L453.50 206.90 L458.10 208.20 L463.80 209.00 L467.00 209.20 L467.00 209.70Z" fill="#a9c3b8"/>
<path d="M442.50 209.20 L443.70 206.10 L444.50 198.00 L445.40 190.90 L446.30 196.90 L447.10 201.50 L448.30 203.80 L450.60 205.50 L453.50 206.90 L458.10 208.20 L463.80 209.00 L467.00 209.20" fill="none" stroke="#3e6e5c" stroke-width="0.8" stroke-linejoin="round"/>
<path d="M442.80 230.40 L442.80 229.90 L443.70 222.40 L444.50 214.30 L445.40 211.80 L446.50 214.30 L447.70 217.80 L449.40 221.80 L451.10 224.70 L453.50 227.20 L456.30 228.70 L460.40 229.50 L465.00 229.90 L465.00 230.40Z" fill="#c6e2b2"/>
<path d="M442.80 229.90 L443.70 222.40 L444.50 214.30 L445.40 211.80 L446.50 214.30 L447.70 217.80 L449.40 221.80 L451.10 224.70 L453.50 227.20 L456.30 228.70 L460.40 229.50 L465.00 229.90" fill="none" stroke="#6aa55c" stroke-width="0.8" stroke-linejoin="round"/>
<path d="M442.50 251.20 L442.50 250.70 L443.70 243.20 L444.40 238.66 L445.10 233.40 L446.00 236.30 L447.10 242.60 L448.30 243.80 L449.15 243.45 L450.00 242.60 L450.77 242.44 L451.53 241.87 L452.30 241.10 L453.07 240.67 L453.83 240.34 L454.60 240.10 L455.45 240.04 L456.30 240.70 L457.07 240.62 L457.83 239.91 L458.60 240.10 L459.40 240.34 L460.20 241.10 L461.00 242.00 L461.77 241.80 L462.53 242.06 L463.30 242.30 L464.00 242.12 L464.70 242.30 L465.40 242.66 L466.10 243.20 L466.83 243.12 L467.55 243.63 L468.27 243.60 L469.00 244.30 L469.73 245.09 L470.45 245.30 L471.17 245.33 L471.90 246.10 L472.60 246.22 L473.30 246.64 L474.00 247.00 L474.70 247.12 L475.40 247.80 L476.25 248.54 L477.10 249.09 L477.95 249.07 L478.80 249.50 L479.50 249.70 L480.20 249.90 L480.90 250.10 L481.60 250.30 L482.30 250.50 L483.07 250.57 L483.83 250.63 L484.60 250.70 L484.60 251.20Z" fill="#f9cd99"/>
<path d="M442.50 250.70 L443.70 243.20 L444.40 238.66 L445.10 233.40 L446.00 236.30 L447.10 242.60 L448.30 243.80 L449.15 243.45 L450.00 242.60 L450.77 242.44 L451.53 241.87 L452.30 241.10 L453.07 240.67 L453.83 240.34 L454.60 240.10 L455.45 240.04 L456.30 240.70 L457.07 240.62 L457.83 239.91 L458.60 240.10 L459.40 240.34 L460.20 241.10 L461.00 242.00 L461.77 241.80 L462.53 242.06 L463.30 242.30 L464.00 242.12 L464.70 242.30 L465.40 242.66 L466.10 243.20 L466.83 243.12 L467.55 243.63 L468.27 243.60 L469.00 244.30 L469.73 245.09 L470.45 245.30 L471.17 245.33 L471.90 246.10 L472.60 246.22 L473.30 246.64 L474.00 247.00 L474.70 247.12 L475.40 247.80 L476.25 248.54 L477.10 249.09 L477.95 249.07 L478.80 249.50 L479.50 249.70 L480.20 249.90 L480.90 250.10 L481.60 250.30 L482.30 250.50 L483.07 250.57 L483.83 250.63 L484.60 250.70" fill="none" stroke="#e39a45" stroke-width="0.8" stroke-linejoin="round"/>
<path d="M442.20 271.80 L442.20 271.30 L442.95 267.02 L443.70 262.80 L444.40 258.09 L445.10 253.40 L446.10 258.20 L447.10 265.10 L448.30 266.10 L449.15 265.23 L450.00 265.10 L450.77 264.58 L451.53 264.63 L452.30 264.60 L453.02 264.29 L453.75 264.70 L454.48 264.00 L455.20 264.20 L455.93 263.87 L456.65 264.81 L457.38 264.53 L458.10 264.60 L458.83 264.41 L459.55 264.89 L460.27 264.55 L461.00 265.10 L461.85 265.38 L462.70 266.03 L463.55 266.18 L464.40 266.10 L465.20 266.56 L466.00 266.45 L466.80 266.82 L467.60 266.92 L468.40 267.50 L469.10 267.96 L469.80 267.97 L470.50 268.41 L471.20 268.23 L471.90 268.60 L472.60 268.59 L473.30 269.36 L474.00 269.32 L474.70 269.56 L475.40 269.80 L476.25 270.08 L477.10 270.35 L477.95 270.62 L478.80 270.90 L479.57 271.03 L480.33 271.17 L481.10 271.30 L481.10 271.80Z" fill="#e99d94"/>
<path d="M442.20 271.30 L442.95 267.02 L443.70 262.80 L444.40 258.09 L445.10 253.40 L446.10 258.20 L447.10 265.10 L448.30 266.10 L449.15 265.23 L450.00 265.10 L450.77 264.58 L451.53 264.63 L452.30 264.60 L453.02 264.29 L453.75 264.70 L454.48 264.00 L455.20 264.20 L455.93 263.87 L456.65 264.81 L457.38 264.53 L458.10 264.60 L458.83 264.41 L459.55 264.89 L460.27 264.55 L461.00 265.10 L461.85 265.38 L462.70 266.03 L463.55 266.18 L464.40 266.10 L465.20 266.56 L466.00 266.45 L466.80 266.82 L467.60 266.92 L468.40 267.50 L469.10 267.96 L469.80 267.97 L470.50 268.41 L471.20 268.23 L471.90 268.60 L472.60 268.59 L473.30 269.36 L474.00 269.32 L474.70 269.56 L475.40 269.80 L476.25 270.08 L477.10 270.35 L477.95 270.62 L478.80 270.90 L479.57 271.03 L480.33 271.17 L481.10 271.30" fill="none" stroke="#a04040" stroke-width="0.8" stroke-linejoin="round"/>
<path d="M442.80 292.80 L442.80 292.30 L444.00 283.80 L445.10 273.50 L446.00 279.20 L446.80 286.10 L447.70 289.60 L449.40 290.80 L452.30 291.60 L455.80 292.30 L455.80 292.80Z" fill="#aab3d3"/>
<path d="M442.80 292.30 L444.00 283.80 L445.10 273.50 L446.00 279.20 L446.80 286.10 L447.70 289.60 L449.40 290.80 L452.30 291.60 L455.80 292.30" fill="none" stroke="#3b4c74" stroke-width="0.8" stroke-linejoin="round"/>
<rect x="251.0" y="188.0" width="87.70" height="104.30" fill="none" stroke="#333" stroke-width="1.1"/>
<line x1="255.80" y1="292.3" x2="255.80" y2="294.3" stroke="#111" stroke-width="0.8"/>
<line x1="270.80" y1="292.3" x2="270.80" y2="294.3" stroke="#111" stroke-width="0.8"/>
<line x1="284.20" y1="292.3" x2="284.20" y2="294.3" stroke="#111" stroke-width="0.8"/>
<line x1="308.70" y1="292.3" x2="308.70" y2="294.3" stroke="#111" stroke-width="0.8"/>
<line x1="329.80" y1="292.3" x2="329.80" y2="294.3" stroke="#111" stroke-width="0.8"/>
<line x1="291.58" y1="292.3" x2="291.58" y2="293.5" stroke="#111" stroke-width="0.6"/>
<line x1="315.05" y1="292.3" x2="315.05" y2="293.5" stroke="#111" stroke-width="0.6"/>
<line x1="295.89" y1="292.3" x2="295.89" y2="293.5" stroke="#111" stroke-width="0.6"/>
<line x1="318.77" y1="292.3" x2="318.77" y2="293.5" stroke="#111" stroke-width="0.6"/>
<line x1="298.95" y1="292.3" x2="298.95" y2="293.5" stroke="#111" stroke-width="0.6"/>
<line x1="321.40" y1="292.3" x2="321.40" y2="293.5" stroke="#111" stroke-width="0.6"/>
<line x1="301.32" y1="292.3" x2="301.32" y2="293.5" stroke="#111" stroke-width="0.6"/>
<line x1="323.45" y1="292.3" x2="323.45" y2="293.5" stroke="#111" stroke-width="0.6"/>
<line x1="303.26" y1="292.3" x2="303.26" y2="293.5" stroke="#111" stroke-width="0.6"/>
<line x1="325.12" y1="292.3" x2="325.12" y2="293.5" stroke="#111" stroke-width="0.6"/>
<line x1="304.90" y1="292.3" x2="304.90" y2="293.5" stroke="#111" stroke-width="0.6"/>
<line x1="326.53" y1="292.3" x2="326.53" y2="293.5" stroke="#111" stroke-width="0.6"/>
<line x1="306.33" y1="292.3" x2="306.33" y2="293.5" stroke="#111" stroke-width="0.6"/>
<line x1="327.76" y1="292.3" x2="327.76" y2="293.5" stroke="#111" stroke-width="0.6"/>
<line x1="307.58" y1="292.3" x2="307.58" y2="293.5" stroke="#111" stroke-width="0.6"/>
<line x1="328.83" y1="292.3" x2="328.83" y2="293.5" stroke="#111" stroke-width="0.6"/>
<line x1="266.28" y1="292.3" x2="266.28" y2="293.5" stroke="#111" stroke-width="0.6"/>
<line x1="274.83" y1="292.3" x2="274.83" y2="293.5" stroke="#111" stroke-width="0.6"/>
<line x1="263.64" y1="292.3" x2="263.64" y2="293.5" stroke="#111" stroke-width="0.6"/>
<line x1="277.19" y1="292.3" x2="277.19" y2="293.5" stroke="#111" stroke-width="0.6"/>
<line x1="261.77" y1="292.3" x2="261.77" y2="293.5" stroke="#111" stroke-width="0.6"/>
<line x1="278.87" y1="292.3" x2="278.87" y2="293.5" stroke="#111" stroke-width="0.6"/>
<line x1="260.32" y1="292.3" x2="260.32" y2="293.5" stroke="#111" stroke-width="0.6"/>
<line x1="280.17" y1="292.3" x2="280.17" y2="293.5" stroke="#111" stroke-width="0.6"/>
<line x1="259.13" y1="292.3" x2="259.13" y2="293.5" stroke="#111" stroke-width="0.6"/>
<line x1="281.23" y1="292.3" x2="281.23" y2="293.5" stroke="#111" stroke-width="0.6"/>
<line x1="258.12" y1="292.3" x2="258.12" y2="293.5" stroke="#111" stroke-width="0.6"/>
<line x1="282.12" y1="292.3" x2="282.12" y2="293.5" stroke="#111" stroke-width="0.6"/>
<line x1="257.25" y1="292.3" x2="257.25" y2="293.5" stroke="#111" stroke-width="0.6"/>
<line x1="282.90" y1="292.3" x2="282.90" y2="293.5" stroke="#111" stroke-width="0.6"/>
<line x1="256.49" y1="292.3" x2="256.49" y2="293.5" stroke="#111" stroke-width="0.6"/>
<line x1="283.59" y1="292.3" x2="283.59" y2="293.5" stroke="#111" stroke-width="0.6"/>
<ellipse cx="270.60" cy="293.50" rx="1.6" ry="1.3" fill="#111"/>
<text x="255.00" y="305.6" font-size="6.2" fill="#231f20" text-anchor="middle" stroke="#231f20" stroke-width="0.22">-10<tspan font-size="4.2" dy="-2.4">3</tspan></text>
<text x="270.80" y="305.6" font-size="6.2" fill="#231f20" text-anchor="middle" stroke="#231f20" stroke-width="0.22">0</text>
<text x="284.20" y="305.6" font-size="6.2" fill="#231f20" text-anchor="middle" stroke="#231f20" stroke-width="0.22">10<tspan font-size="4.2" dy="-2.4">3</tspan></text>
<text x="308.70" y="305.6" font-size="6.2" fill="#231f20" text-anchor="middle" stroke="#231f20" stroke-width="0.22">10<tspan font-size="4.2" dy="-2.4">4</tspan></text>
<text x="329.80" y="305.6" font-size="6.2" fill="#231f20" text-anchor="middle" stroke="#231f20" stroke-width="0.22">10<tspan font-size="4.2" dy="-2.4">5</tspan></text>
<text x="294.70" y="315.9" font-size="7.9" fill="#231f20" text-anchor="middle" stroke="#231f20" stroke-width="0.22">CD62p-APC</text>
<rect x="338.7" y="188.0" width="86.80" height="104.30" fill="none" stroke="#333" stroke-width="1.1"/>
<line x1="343.50" y1="292.3" x2="343.50" y2="294.3" stroke="#111" stroke-width="0.8"/>
<line x1="358.50" y1="292.3" x2="358.50" y2="294.3" stroke="#111" stroke-width="0.8"/>
<line x1="371.90" y1="292.3" x2="371.90" y2="294.3" stroke="#111" stroke-width="0.8"/>
<line x1="396.40" y1="292.3" x2="396.40" y2="294.3" stroke="#111" stroke-width="0.8"/>
<line x1="417.50" y1="292.3" x2="417.50" y2="294.3" stroke="#111" stroke-width="0.8"/>
<line x1="379.28" y1="292.3" x2="379.28" y2="293.5" stroke="#111" stroke-width="0.6"/>
<line x1="402.75" y1="292.3" x2="402.75" y2="293.5" stroke="#111" stroke-width="0.6"/>
<line x1="383.59" y1="292.3" x2="383.59" y2="293.5" stroke="#111" stroke-width="0.6"/>
<line x1="406.47" y1="292.3" x2="406.47" y2="293.5" stroke="#111" stroke-width="0.6"/>
<line x1="386.65" y1="292.3" x2="386.65" y2="293.5" stroke="#111" stroke-width="0.6"/>
<line x1="409.10" y1="292.3" x2="409.10" y2="293.5" stroke="#111" stroke-width="0.6"/>
<line x1="389.02" y1="292.3" x2="389.02" y2="293.5" stroke="#111" stroke-width="0.6"/>
<line x1="411.15" y1="292.3" x2="411.15" y2="293.5" stroke="#111" stroke-width="0.6"/>
<line x1="390.96" y1="292.3" x2="390.96" y2="293.5" stroke="#111" stroke-width="0.6"/>
<line x1="412.82" y1="292.3" x2="412.82" y2="293.5" stroke="#111" stroke-width="0.6"/>
<line x1="392.60" y1="292.3" x2="392.60" y2="293.5" stroke="#111" stroke-width="0.6"/>
<line x1="414.23" y1="292.3" x2="414.23" y2="293.5" stroke="#111" stroke-width="0.6"/>
<line x1="394.03" y1="292.3" x2="394.03" y2="293.5" stroke="#111" stroke-width="0.6"/>
<line x1="415.46" y1="292.3" x2="415.46" y2="293.5" stroke="#111" stroke-width="0.6"/>
<line x1="395.28" y1="292.3" x2="395.28" y2="293.5" stroke="#111" stroke-width="0.6"/>
<line x1="416.53" y1="292.3" x2="416.53" y2="293.5" stroke="#111" stroke-width="0.6"/>
<line x1="353.98" y1="292.3" x2="353.98" y2="293.5" stroke="#111" stroke-width="0.6"/>
<line x1="362.53" y1="292.3" x2="362.53" y2="293.5" stroke="#111" stroke-width="0.6"/>
<line x1="351.34" y1="292.3" x2="351.34" y2="293.5" stroke="#111" stroke-width="0.6"/>
<line x1="364.89" y1="292.3" x2="364.89" y2="293.5" stroke="#111" stroke-width="0.6"/>
<line x1="349.47" y1="292.3" x2="349.47" y2="293.5" stroke="#111" stroke-width="0.6"/>
<line x1="366.57" y1="292.3" x2="366.57" y2="293.5" stroke="#111" stroke-width="0.6"/>
<line x1="348.02" y1="292.3" x2="348.02" y2="293.5" stroke="#111" stroke-width="0.6"/>
<line x1="367.87" y1="292.3" x2="367.87" y2="293.5" stroke="#111" stroke-width="0.6"/>
<line x1="346.83" y1="292.3" x2="346.83" y2="293.5" stroke="#111" stroke-width="0.6"/>
<line x1="368.93" y1="292.3" x2="368.93" y2="293.5" stroke="#111" stroke-width="0.6"/>
<line x1="345.82" y1="292.3" x2="345.82" y2="293.5" stroke="#111" stroke-width="0.6"/>
<line x1="369.82" y1="292.3" x2="369.82" y2="293.5" stroke="#111" stroke-width="0.6"/>
<line x1="344.95" y1="292.3" x2="344.95" y2="293.5" stroke="#111" stroke-width="0.6"/>
<line x1="370.60" y1="292.3" x2="370.60" y2="293.5" stroke="#111" stroke-width="0.6"/>
<line x1="344.19" y1="292.3" x2="344.19" y2="293.5" stroke="#111" stroke-width="0.6"/>
<line x1="371.29" y1="292.3" x2="371.29" y2="293.5" stroke="#111" stroke-width="0.6"/>
<ellipse cx="358.30" cy="293.50" rx="1.6" ry="1.3" fill="#111"/>
<text x="342.70" y="305.6" font-size="6.2" fill="#231f20" text-anchor="middle" stroke="#231f20" stroke-width="0.22">-10<tspan font-size="4.2" dy="-2.4">3</tspan></text>
<text x="358.50" y="305.6" font-size="6.2" fill="#231f20" text-anchor="middle" stroke="#231f20" stroke-width="0.22">0</text>
<text x="371.90" y="305.6" font-size="6.2" fill="#231f20" text-anchor="middle" stroke="#231f20" stroke-width="0.22">10<tspan font-size="4.2" dy="-2.4">3</tspan></text>
<text x="396.40" y="305.6" font-size="6.2" fill="#231f20" text-anchor="middle" stroke="#231f20" stroke-width="0.22">10<tspan font-size="4.2" dy="-2.4">4</tspan></text>
<text x="417.50" y="305.6" font-size="6.2" fill="#231f20" text-anchor="middle" stroke="#231f20" stroke-width="0.22">10<tspan font-size="4.2" dy="-2.4">5</tspan></text>
<text x="382.40" y="315.9" font-size="7.9" fill="#231f20" text-anchor="middle" stroke="#231f20" stroke-width="0.22">CD62p-APC</text>
<rect x="425.5" y="188.0" width="87.50" height="104.30" fill="none" stroke="#333" stroke-width="1.1"/>
<line x1="430.30" y1="292.3" x2="430.30" y2="294.3" stroke="#111" stroke-width="0.8"/>
<line x1="445.30" y1="292.3" x2="445.30" y2="294.3" stroke="#111" stroke-width="0.8"/>
<line x1="458.70" y1="292.3" x2="458.70" y2="294.3" stroke="#111" stroke-width="0.8"/>
<line x1="483.20" y1="292.3" x2="483.20" y2="294.3" stroke="#111" stroke-width="0.8"/>
<line x1="504.30" y1="292.3" x2="504.30" y2="294.3" stroke="#111" stroke-width="0.8"/>
<line x1="466.08" y1="292.3" x2="466.08" y2="293.5" stroke="#111" stroke-width="0.6"/>
<line x1="489.55" y1="292.3" x2="489.55" y2="293.5" stroke="#111" stroke-width="0.6"/>
<line x1="470.39" y1="292.3" x2="470.39" y2="293.5" stroke="#111" stroke-width="0.6"/>
<line x1="493.27" y1="292.3" x2="493.27" y2="293.5" stroke="#111" stroke-width="0.6"/>
<line x1="473.45" y1="292.3" x2="473.45" y2="293.5" stroke="#111" stroke-width="0.6"/>
<line x1="495.90" y1="292.3" x2="495.90" y2="293.5" stroke="#111" stroke-width="0.6"/>
<line x1="475.82" y1="292.3" x2="475.82" y2="293.5" stroke="#111" stroke-width="0.6"/>
<line x1="497.95" y1="292.3" x2="497.95" y2="293.5" stroke="#111" stroke-width="0.6"/>
<line x1="477.76" y1="292.3" x2="477.76" y2="293.5" stroke="#111" stroke-width="0.6"/>
<line x1="499.62" y1="292.3" x2="499.62" y2="293.5" stroke="#111" stroke-width="0.6"/>
<line x1="479.40" y1="292.3" x2="479.40" y2="293.5" stroke="#111" stroke-width="0.6"/>
<line x1="501.03" y1="292.3" x2="501.03" y2="293.5" stroke="#111" stroke-width="0.6"/>
<line x1="480.83" y1="292.3" x2="480.83" y2="293.5" stroke="#111" stroke-width="0.6"/>
<line x1="502.26" y1="292.3" x2="502.26" y2="293.5" stroke="#111" stroke-width="0.6"/>
<line x1="482.08" y1="292.3" x2="482.08" y2="293.5" stroke="#111" stroke-width="0.6"/>
<line x1="503.33" y1="292.3" x2="503.33" y2="293.5" stroke="#111" stroke-width="0.6"/>
<line x1="440.78" y1="292.3" x2="440.78" y2="293.5" stroke="#111" stroke-width="0.6"/>
<line x1="449.33" y1="292.3" x2="449.33" y2="293.5" stroke="#111" stroke-width="0.6"/>
<line x1="438.14" y1="292.3" x2="438.14" y2="293.5" stroke="#111" stroke-width="0.6"/>
<line x1="451.69" y1="292.3" x2="451.69" y2="293.5" stroke="#111" stroke-width="0.6"/>
<line x1="436.27" y1="292.3" x2="436.27" y2="293.5" stroke="#111" stroke-width="0.6"/>
<line x1="453.37" y1="292.3" x2="453.37" y2="293.5" stroke="#111" stroke-width="0.6"/>
<line x1="434.82" y1="292.3" x2="434.82" y2="293.5" stroke="#111" stroke-width="0.6"/>
<line x1="454.67" y1="292.3" x2="454.67" y2="293.5" stroke="#111" stroke-width="0.6"/>
<line x1="433.63" y1="292.3" x2="433.63" y2="293.5" stroke="#111" stroke-width="0.6"/>
<line x1="455.73" y1="292.3" x2="455.73" y2="293.5" stroke="#111" stroke-width="0.6"/>
<line x1="432.62" y1="292.3" x2="432.62" y2="293.5" stroke="#111" stroke-width="0.6"/>
<line x1="456.62" y1="292.3" x2="456.62" y2="293.5" stroke="#111" stroke-width="0.6"/>
<line x1="431.75" y1="292.3" x2="431.75" y2="293.5" stroke="#111" stroke-width="0.6"/>
<line x1="457.40" y1="292.3" x2="457.40" y2="293.5" stroke="#111" stroke-width="0.6"/>
<line x1="430.99" y1="292.3" x2="430.99" y2="293.5" stroke="#111" stroke-width="0.6"/>
<line x1="458.09" y1="292.3" x2="458.09" y2="293.5" stroke="#111" stroke-width="0.6"/>
<ellipse cx="445.10" cy="293.50" rx="1.6" ry="1.3" fill="#111"/>
<text x="429.50" y="305.6" font-size="6.2" fill="#231f20" text-anchor="middle" stroke="#231f20" stroke-width="0.22">-10<tspan font-size="4.2" dy="-2.4">3</tspan></text>
<text x="445.30" y="305.6" font-size="6.2" fill="#231f20" text-anchor="middle" stroke="#231f20" stroke-width="0.22">0</text>
<text x="458.70" y="305.6" font-size="6.2" fill="#231f20" text-anchor="middle" stroke="#231f20" stroke-width="0.22">10<tspan font-size="4.2" dy="-2.4">3</tspan></text>
<text x="483.20" y="305.6" font-size="6.2" fill="#231f20" text-anchor="middle" stroke="#231f20" stroke-width="0.22">10<tspan font-size="4.2" dy="-2.4">4</tspan></text>
<text x="504.30" y="305.6" font-size="6.2" fill="#231f20" text-anchor="middle" stroke="#231f20" stroke-width="0.22">10<tspan font-size="4.2" dy="-2.4">5</tspan></text>
<text x="469.20" y="315.9" font-size="7.9" fill="#231f20" text-anchor="middle" stroke="#231f20" stroke-width="0.22">CD62p-APC</text>
<rect x="0" y="0" width="520" height="1" fill="#5a5a5a"/>
<rect x="0" y="0" width="1" height="325" fill="#505050"/>
<rect x="1" y="1" width="0.6" height="323" fill="#9a9a9a"/>
<rect x="519" y="0" width="1" height="325" fill="#3a3a3a"/>
<rect x="518.4" y="1" width="0.6" height="323" fill="#8a8a8a"/>
<rect x="0" y="324" width="520" height="1" fill="#3a3a3a"/>
<rect x="1" y="323.4" width="518" height="0.6" fill="#8a8a8a"/>
</svg></body></html>
